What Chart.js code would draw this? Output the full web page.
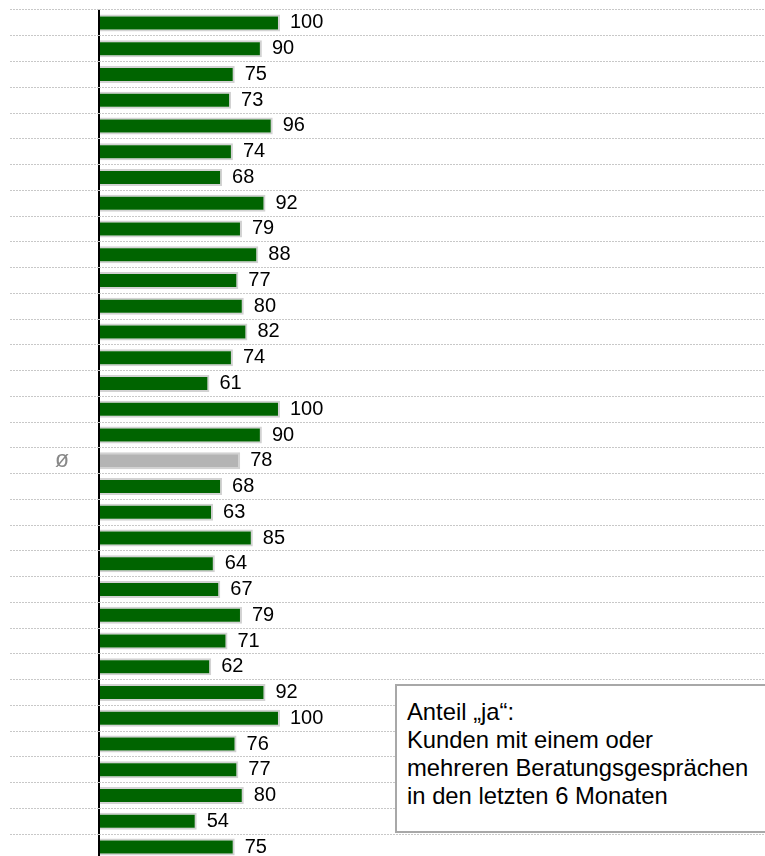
<!DOCTYPE html>
<html>
<head>
<meta charset="utf-8">
<script src="https://cdn.jsdelivr.net/npm/chart.js@4"></script>
<style>
  html, body { margin: 0; padding: 0; background: #fff; overflow: hidden; }
  #wrap { position: relative; width: 765px; height: 860px; }
  #note {
    position: absolute; left: 395px; top: 684px; width: 380px; height: 149px;
    border: 2px solid #a8a8a8; background: #fff; box-sizing: border-box;
    font-family: "Liberation Sans", Arial, sans-serif; font-size: 23.8px; line-height: 28px;
    color: #000; padding: 12px 0 0 10px; white-space: nowrap;
  }
</style>
</head>
<body>
<div id="wrap">
  <canvas id="c" width="765" height="860"></canvas>
  <div id="note">Anteil „ja“:<br>Kunden mit einem oder<br>mehreren Beratungsgesprächen<br>in den letzten 6 Monaten</div>
</div>
<script>
const categories = ['', '', '', '', '', '', '', '', '', '', '', '', '', '', '', '', '', 'ø', '', '', '', '', '', '', '', '', '', '', '', '', '', '', ''];
const values = [100, 90, 75, 73, 96, 74, 68, 92, 79, 88, 77, 80, 82, 74, 61, 100, 90, 78, 68, 63, 85, 64, 67, 79, 71, 62, 92, 100, 76, 77, 80, 54, 75];
const averageIndex = 17;

const green = '#006400';
const grey = '#b4b4b4';

const valueLabels = {
  id: 'valueLabels',
  afterDatasetsDraw(chart) {
    const ctx = chart.ctx;
    const meta = chart.getDatasetMeta(0);
    ctx.save();
    ctx.font = '20px "Liberation Sans", Arial, sans-serif';
    ctx.fillStyle = '#000';
    ctx.textAlign = 'left';
    ctx.textBaseline = 'middle';
    meta.data.forEach((bar, i) => {
      ctx.fillText(String(values[i]), bar.x + 10, bar.y);
    });
    ctx.restore();
  }
};

new Chart(document.getElementById('c'), {
  type: 'bar',
  data: {
    labels: categories,
    datasets: [{
      data: values,
      backgroundColor: values.map((v, i) => i === averageIndex ? grey : green),
      borderColor: '#d2d2d2',
      borderWidth: 2,
      barPercentage: 0.66,
      categoryPercentage: 1
    }]
  },
  options: {
    indexAxis: 'y',
    responsive: false,
    animation: false,
    layout: { padding: { left: 10, top: 10, right: 0, bottom: 0 } },
    plugins: { legend: { display: false }, tooltip: { enabled: false } },
    scales: {
      x: {
        display: true,
        min: 0,
        max: 368,
        afterBuildTicks(scale) { scale.ticks = [{ value: 0 }]; },
        afterFit(scale) { scale.height = 0; },
        ticks: { display: false },
        grid: { color: '#000', lineWidth: 2, drawTicks: false },
        border: { display: false }
      },
      y: {
        afterFit(scale) { scale.width = 89; },
        ticks: {
          autoSkip: false,
          padding: -59,
          color: '#888888',
          font: { family: '"Liberation Sans", Arial, sans-serif', size: 23 }
        },
        grid: {
          color: '#c8c8c8', lineWidth: 1, drawTicks: true, tickLength: 89, offset: true,
          tickBorderDash: [2, 1]
        },
        border: { display: false, dash: [2, 1] }
      }
    }
  },
  plugins: [valueLabels]
});
</script>
</body>
</html>
